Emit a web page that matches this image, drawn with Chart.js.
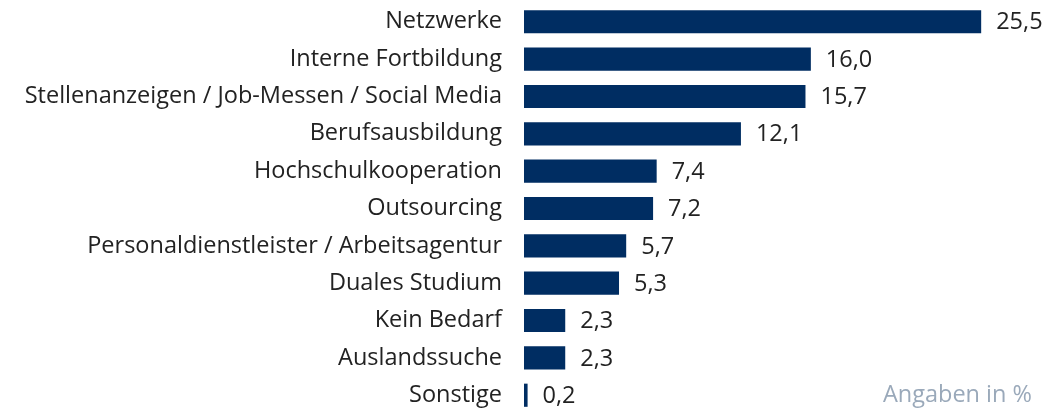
<!DOCTYPE html>
<html>
<head>
<meta charset="utf-8">
<script src="https://cdn.jsdelivr.net/npm/chart.js@4"></script>
<style>
  html, body { margin: 0; padding: 0; background: #fff; overflow: hidden; }
  /* the y axis adds label padding above/below the plot area; shift the canvas to hide it */
  #barChart { display: block; margin-top: -33px; }
</style>
</head>
<body>
<canvas id="barChart" width="1052" height="483"></canvas>
<script>
const categories = [
    "Netzwerke",
    "Interne Fortbildung",
    "Stellenanzeigen / Job-Messen / Social Media",
    "Berufsausbildung",
    "Hochschulkooperation",
    "Outsourcing",
    "Personaldienstleister / Arbeitsagentur",
    "Duales Studium",
    "Kein Bedarf",
    "Auslandssuche",
    "Sonstige"
];
const values = [25.5, 16.0, 15.7, 12.1, 7.4, 7.2, 5.7, 5.3, 2.3, 2.3, 0.2];
const note = "Angaben in %";

const FONT = "'Open Sans', sans-serif";
const FONT_SIZE = 23.5;
const BAR_COLOR = "#002d62";

// value labels next to the bars, plus the note bottom right
const valueLabels = {
    id: 'valueLabels',
    afterDatasetsDraw(chart) {
        const ctx = chart.ctx;
        const meta = chart.getDatasetMeta(0);
        ctx.save();
        ctx.font = FONT_SIZE + "px " + FONT;
        ctx.fillStyle = "#222";
        ctx.textBaseline = "middle";
        ctx.textAlign = "left";
        meta.data.forEach(function(bar, i) {
            ctx.fillText(values[i].toFixed(1).replace(".", ","), bar.x + 15, bar.y + 1);
        });
        ctx.fillStyle = "#9aa9ba";
        ctx.textAlign = "right";
        ctx.fillText(note, 1032, meta.data[meta.data.length - 1].y);
        ctx.restore();
    }
};

new Chart(document.getElementById('barChart'), {
    type: 'bar',
    data: {
        labels: categories,
        datasets: [{
            data: values,
            backgroundColor: BAR_COLOR,
            borderWidth: 0,
            barPercentage: 0.62,
            categoryPercentage: 1.0
        }]
    },
    options: {
        indexAxis: 'y',
        responsive: false,
        animation: false,
        layout: {
            padding: { top: 3, right: 26, bottom: 0, left: 0 }
        },
        scales: {
            x: {
                display: false,
                min: 0,
                max: 28
            },
            y: {
                grid: { display: false, drawTicks: false },
                border: { display: false },
                afterFit: function(scale) { scale.width = 524; },
                ticks: {
                    color: "#222",
                    padding: 22,
                    font: { family: FONT, size: FONT_SIZE }
                }
            }
        },
        plugins: {
            legend: { display: false },
            tooltip: { enabled: false }
        }
    },
    plugins: [valueLabels]
});
</script>
</body>
</html>
